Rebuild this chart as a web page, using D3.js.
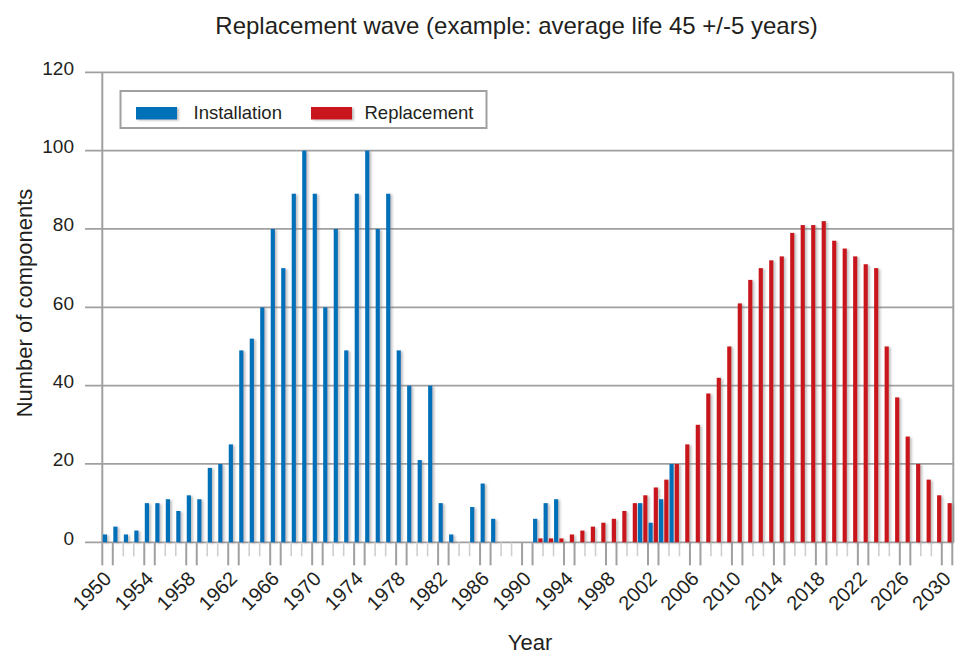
<!DOCTYPE html>
<html>
<head>
<meta charset="utf-8">
<script src="https://cdn.jsdelivr.net/npm/d3@7"></script>
<style>
  html, body { margin: 0; padding: 0; background: #fff; }
  svg { display: block; }
  text { font-family: "Liberation Sans", Arial, Helvetica, sans-serif; fill: #231f20; }
</style>
</head>
<body>
<svg id="chart" width="955" height="656"></svg>
<script>
// ---- Data ----
const years = [
  1950,1951,1952,1953,1954,1955,1956,1957,1958,1959,
  1960,1961,1962,1963,1964,1965,1966,1967,1968,1969,
  1970,1971,1972,1973,1974,1975,1976,1977,1978,1979,
  1980,1981,1982,1983,1984,1985,1986,1987,1988,1989,
  1990,1991,1992,1993,1994,1995,1996,1997,1998,1999,
  2000,2001,2002,2003,2004,2005,2006,2007,2008,2009,
  2010,2011,2012,2013,2014,2015,2016,2017,2018,2019,
  2020,2021,2022,2023,2024,2025,2026,2027,2028,2029,
  2030
];
const installation = [
  2,4,2,3,10,10,11,8,12,11,
  19,20,25,49,52,60,80,70,89,100,
  89,60,80,49,89,100,80,89,49,40,
  21,40,10,2,0,9,15,6,0,0,
  0,6,10,11,0,0,0,0,0,0,
  0,10,5,11,20,0,0,0,0,0,
  0,0,0,0,0,0,0,0,0,0,
  0,0,0,0,0,0,0,0,0,0,
  0
];
const replacement = [
  0,0,0,0,0,0,0,0,0,0,
  0,0,0,0,0,0,0,0,0,0,
  0,0,0,0,0,0,0,0,0,0,
  0,0,0,0,0,0,0,0,0,0,
  0,1,1,1,2,3,4,5,6,8,
  10,12,14,16,20,25,30,38,42,50,
  61,67,70,72,73,79,81,81,82,77,
  75,73,71,70,50,37,27,20,16,12,
  10
];
const seriesNames = ["Installation", "Replacement"];
const seriesColors = ["#0070b9", "#c8161d"];
const yTickValues = [0, 20, 40, 60, 80, 100, 120];
const xTickLabels = ["1950","1954","1958","1962","1966","1970","1974","1978","1982","1986","1990","1994","1998","2002","2006","2010","2014","2018","2022","2026","2030"];
const titleText = "Replacement wave (example: average life 45 +/-5 years)";
const yAxisTitle = "Number of components";
const xAxisTitle = "Year";

// ---- Layout ----
const plotL = 102.3, plotR = 952.3, plotT = 72.3, plotB = 542.3;
const gridLeft = 85, gridRight = 953.3;
const gridColor = "#a0a0a2";

const svg = d3.select("#chart");
const defs = svg.append("defs");
const sh = defs.append("filter").attr("id", "shadow")
  .attr("x", "-50%").attr("y", "-10%").attr("width", "250%").attr("height", "130%");
sh.append("feDropShadow").attr("dx", 2).attr("dy", 1).attr("stdDeviation", 1)
  .attr("flood-color", "#777").attr("flood-opacity", 0.45);

const x = d3.scaleBand().domain(years).range([plotL, plotR]).padding(0);
const x1 = d3.scaleBand().domain(seriesNames).range([0, x.bandwidth()])
  .paddingInner(0.2).paddingOuter(0.1);
const y = d3.scaleLinear().domain([0, 120]).range([plotB, plotT]);

// ---- Grid lines ----
svg.append("g").selectAll("line").data(yTickValues).join("line")
  .attr("x1", gridLeft).attr("x2", gridRight)
  .attr("y1", d => y(d)).attr("y2", d => y(d))
  .attr("stroke", gridColor).attr("stroke-width", 1.8);

// ---- Y axis (labels) ----
const yAxis = d3.axisLeft(y).tickValues(yTickValues).tickSize(0).tickPadding(0);
const gy = svg.append("g").attr("transform", `translate(74,0)`).call(yAxis);
gy.select(".domain").remove();
gy.selectAll("text")
  .attr("dy", null).attr("y", 2).attr("x", 0)
  .style("font-size", "19px")
  .style("font-family", '"Liberation Sans", Arial, sans-serif')
  .attr("fill", "#231f20")
  .attr("text-anchor", "end");

// ---- X ticks (band boundaries) ----
const boundaries = years.map((yr, i) => ({ i, pos: x(yr) }));
boundaries.push({ i: years.length, pos: x(years[years.length - 1]) + x.bandwidth() });
const isMajor = d => (d.i % 4 === 0 || d.i % 4 === 1);
svg.append("g").selectAll("line").data(boundaries).join("line")
  .attr("x1", d => d.pos).attr("x2", d => d.pos)
  .attr("y1", plotB)
  .attr("y2", d => isMajor(d) ? plotB + 23 : plotB + 14)
  .attr("stroke", d => isMajor(d) ? gridColor : "#cfcfd1")
  .attr("stroke-width", d => isMajor(d) ? 2 : 1.6);

// axis frame lines
svg.append("line").attr("x1", plotL).attr("x2", plotL).attr("y1", plotT).attr("y2", plotB)
  .attr("stroke", gridColor).attr("stroke-width", 2);
svg.append("line").attr("x1", gridRight).attr("x2", gridRight).attr("y1", plotT).attr("y2", plotB)
  .attr("stroke", gridColor).attr("stroke-width", 2);

// ---- Bars ----
const seriesData = [installation, replacement];
const barGroup = svg.append("g").attr("filter", "url(#shadow)");
seriesNames.forEach((name, si) => {
  const vals = seriesData[si];
  barGroup.append("g").selectAll("rect")
    .data(years.map((yr, i) => ({ yr, v: vals[i] })).filter(d => d.v > 0))
    .join("rect")
    .attr("x", d => x(d.yr) + x1(name))
    .attr("width", x1.bandwidth())
    .attr("y", d => y(d.v))
    .attr("height", d => y(0) - y(d.v))
    .attr("fill", seriesColors[si]);
});

// ---- X tick labels ----
svg.append("g").selectAll("text").data(xTickLabels).join("text")
  .attr("transform", d => `translate(${x(+d) + x.bandwidth() / 2 + 5},${580}) rotate(-45)`)
  .attr("text-anchor", "end")
  .style("font-size", "20px")
  .text(d => d);

// ---- Legend ----
const lg = svg.append("g");
lg.append("rect").attr("x", 120.5).attr("y", 91).attr("width", 366).attr("height", 37)
  .attr("fill", "#fff").attr("stroke", gridColor).attr("stroke-width", 2);
const legendX = [[136, 193.5], [311, 364.5]];
seriesNames.forEach((name, si) => {
  lg.append("rect").attr("x", legendX[si][0]).attr("y", 107).attr("width", 41).attr("height", 12.5)
    .attr("fill", seriesColors[si]).attr("filter", "url(#shadow)");
  lg.append("text").attr("x", legendX[si][1]).attr("y", 118.5)
    .style("font-size", "18.5px").text(name);
});

// ---- Titles ----
svg.append("text").attr("x", 516.5).attr("y", 33.5).attr("text-anchor", "middle")
  .style("font-size", "24px").text(titleText);
svg.append("text").attr("transform", "translate(32,303) rotate(-90)").attr("text-anchor", "middle")
  .style("font-size", "22px").text(yAxisTitle);
svg.append("text").attr("x", 530).attr("y", 650).attr("text-anchor", "middle")
  .style("font-size", "22px").text(xAxisTitle);
</script>
</body>
</html>
